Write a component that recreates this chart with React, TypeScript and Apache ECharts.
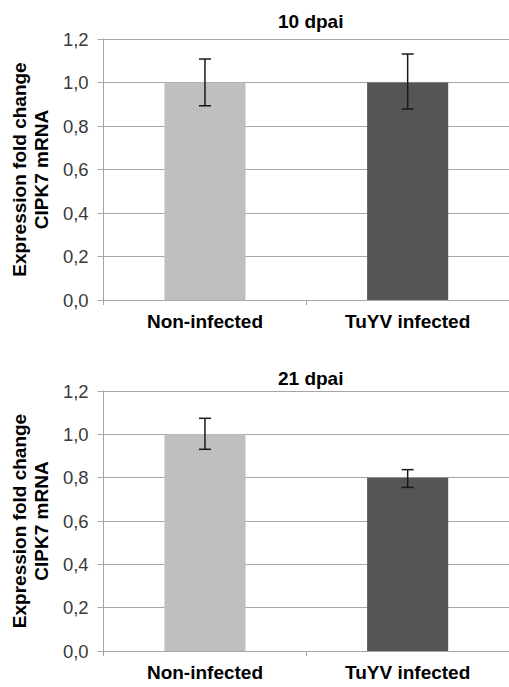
import React, { useEffect, useRef } from "react";
import * as echarts from "echarts";

const categories = ["Non-infected", "TuYV infected"];
const titles = ["10 dpai", "21 dpai"];
const values10 = [1.0, 1.0];
const errLow10 = [0.893, 0.878];
const errHigh10 = [1.108, 1.131];
const values21 = [1.0, 0.8];
const errLow21 = [0.931, 0.755];
const errHigh21 = [1.074, 0.837];
const barColors = ["#bfbfbf", "#555555"];
const yTicksMax = 1.2;

const FONT = "'Liberation Sans', Arial, sans-serif";

export default function App() {
  const ref = useRef<HTMLDivElement>(null);
  useEffect(() => {
    if (!ref.current) return;
    const chart = echarts.init(ref.current, undefined, { renderer: "svg" });
    const grids = [
      { left: 103, top: 39, width: 410, height: 261 },
      { left: 103, top: 391, width: 410, height: 260 },
    ];
    const mkX = (gi: number) => ({
      type: "category",
      gridIndex: gi,
      data: categories,
      axisLine: { lineStyle: { color: "#a6a6a6", width: 1 } },
      axisTick: { show: true, length: 5, lineStyle: { color: "#a6a6a6" } },
      axisLabel: {
        fontFamily: FONT,
        fontSize: 19,
        fontWeight: "bold",
        color: "#000",
        margin: 12,
      },
    });
    const mkY = (gi: number) => ({
      type: "value",
      gridIndex: gi,
      min: 0,
      max: yTicksMax,
      interval: 0.2,
      name: "Expression fold change\nCIPK7 mRNA",
      nameLocation: "middle",
      nameGap: 50,
      nameTextStyle: {
        fontFamily: FONT,
        fontSize: 19,
        fontWeight: "bold",
        color: "#000",
        lineHeight: 22,
      },
      axisLine: { show: true, lineStyle: { color: "#a6a6a6", width: 1 } },
      axisTick: { show: true, length: 6, lineStyle: { color: "#a6a6a6" } },
      splitLine: { show: true, lineStyle: { color: "#a6a6a6", width: 1 } },
      axisLabel: {
        fontFamily: FONT,
        fontSize: 18.5,
        color: "#3a3a3a",
        margin: 15,
        formatter: (v: number) => v.toFixed(1).replace(".", ","),
      },
    });
    const mkBar = (gi: number, vals: number[]) => ({
      type: "bar",
      xAxisIndex: gi,
      yAxisIndex: gi,
      barWidth: "40%",
      data: vals.map((v, i) => ({ value: v, itemStyle: { color: barColors[i] } })),
    });
    const mkErr = (gi: number, lo: number[], hi: number[]) => ({
      type: "custom",
      xAxisIndex: gi,
      yAxisIndex: gi,
      data: lo.map((l, i) => [i, l, hi[i]]),
      renderItem: (params: any, api: any) => {
        const x = api.value(0);
        const pLo = api.coord([x, api.value(1)]);
        const pHi = api.coord([x, api.value(2)]);
        const hw = 6;
        const style = { stroke: "#1a1a1a", lineWidth: 1.5 };
        return {
          type: "group",
          children: [
            { type: "line", shape: { x1: pLo[0], y1: pLo[1], x2: pHi[0], y2: pHi[1] }, style },
            { type: "line", shape: { x1: pLo[0] - hw, y1: pLo[1], x2: pLo[0] + hw, y2: pLo[1] }, style },
            { type: "line", shape: { x1: pHi[0] - hw, y1: pHi[1], x2: pHi[0] + hw, y2: pHi[1] }, style },
          ],
        };
      },
      z: 10,
    });
    chart.setOption({
      animation: false,
      backgroundColor: "#fff",
      title: [
        { text: titles[0], left: 273, top: 7, textStyle: { fontFamily: FONT, fontSize: 19, fontWeight: "bold", color: "#000" } },
        { text: titles[1], left: 273, top: 364, textStyle: { fontFamily: FONT, fontSize: 19, fontWeight: "bold", color: "#000" } },
      ],
      grid: grids,
      xAxis: [mkX(0), mkX(1)],
      yAxis: [mkY(0), mkY(1)],
      series: [
        mkBar(0, values10),
        mkErr(0, errLow10, errHigh10),
        mkBar(1, values21),
        mkErr(1, errLow21, errHigh21),
      ],
    });
    return () => chart.dispose();
  }, []);
  return (
    <div
      ref={ref}
      style={{ position: "absolute", left: 0, top: 0, width: 509, height: 687, background: "#fff" }}
    />
  );
}
